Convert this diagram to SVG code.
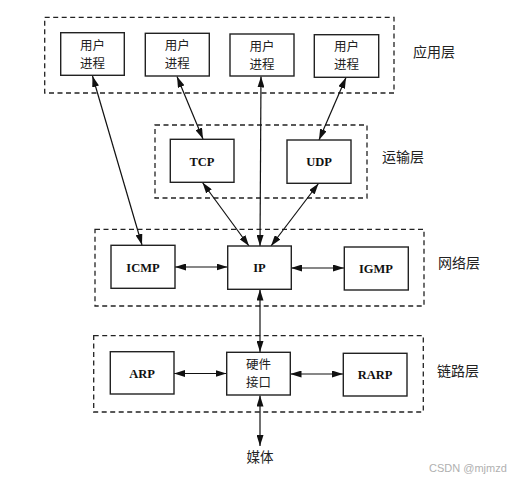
<svg xmlns="http://www.w3.org/2000/svg" width="515" height="483" viewBox="0 0 515 483">
<defs>
<marker id="ah" viewBox="0 0 11 7" refX="11" refY="3.5" markerWidth="11" markerHeight="7" markerUnits="userSpaceOnUse" orient="auto-start-reverse">
<path d="M0,0 L11,3.5 L0,7 z" fill="#111"/>
</marker>
<style>
.layer{fill:none;stroke:#222;stroke-width:1.3;stroke-dasharray:5,3.5}
.box{fill:#fff;stroke:#222;stroke-width:1.4}
.cjk{font-family:"Noto Sans CJK SC","Noto Sans",sans-serif;font-size:12.5px;fill:#222;text-anchor:middle}
.lbl{font-family:"Noto Sans CJK SC","Noto Sans",sans-serif;font-size:14px;fill:#222}
.proto{font-family:"Liberation Serif","Times New Roman",serif;font-size:12.5px;font-weight:bold;fill:#111;text-anchor:middle}
.conn line{stroke:#111;stroke-width:1.2;marker-start:url(#ah);marker-end:url(#ah)}
.wm{font-family:"Liberation Sans",Arial,sans-serif;font-size:11px;fill:#b0b0b0}
</style>
</defs>
<rect width="515" height="483" fill="#fff"/>

<g id="layers">
<rect class="layer" x="44.7" y="17.3" width="349.3" height="75.7"/>
<rect class="layer" x="155" y="125" width="212" height="73"/>
<rect class="layer" x="95" y="229.3" width="329" height="76.7"/>
<rect class="layer" x="93.7" y="335.7" width="329.6" height="76.3"/>
<text class="lbl" x="413" y="57">应用层</text>
<text class="lbl" x="382" y="162">运输层</text>
<text class="lbl" x="438" y="268">网络层</text>
<text class="lbl" x="437" y="376">链路层</text>
</g>

<g class="conn" id="connectors">
<line x1="92.5" y1="76" x2="142" y2="245"/>
<line x1="177" y1="76.5" x2="203" y2="139"/>
<line x1="261" y1="76.5" x2="260" y2="246"/>
<line x1="346" y1="77.5" x2="319" y2="140"/>
<line x1="202.5" y1="182.5" x2="249" y2="246"/>
<line x1="318.5" y1="183.5" x2="271" y2="246"/>
<line x1="175" y1="267" x2="227.5" y2="267"/>
<line x1="291" y1="268" x2="344" y2="268"/>
<line x1="260" y1="289.5" x2="260" y2="352"/>
<line x1="174" y1="373.5" x2="226.5" y2="373.5"/>
<line x1="290.5" y1="374" x2="343" y2="374"/>
<line x1="260" y1="395.5" x2="260" y2="446"/>
</g>

<g id="proc1"><rect class="box" x="60.7" y="32.7" width="63.6" height="42.6"/><text class="cjk" x="92.5" y="49.5">用户<tspan x="92.5" dy="18.2">进程</tspan></text></g>
<g id="proc2"><rect class="box" x="145.3" y="33.3" width="64" height="42.7"/><text class="cjk" x="177.3" y="50">用户<tspan x="177.3" dy="18.2">进程</tspan></text></g>
<g id="proc3"><rect class="box" x="230" y="34" width="64" height="42"/><text class="cjk" x="262" y="50.5">用户<tspan x="262" dy="18.2">进程</tspan></text></g>
<g id="proc4"><rect class="box" x="314.3" y="34.7" width="64.4" height="42.6"/><text class="cjk" x="346.5" y="51">用户<tspan x="346.5" dy="18.2">进程</tspan></text></g>

<g id="tcp"><rect class="box" x="170.3" y="139.3" width="63.7" height="43"/><text class="proto" x="202" y="165.5">TCP</text></g>
<g id="udp"><rect class="box" x="287" y="140" width="64" height="43.3"/><text class="proto" x="319" y="166">UDP</text></g>

<g id="icmp"><rect class="box" x="111" y="245.3" width="64" height="43"/><text class="proto" x="143" y="271.5">ICMP</text></g>
<g id="ip"><rect class="box" x="227.7" y="246" width="63.6" height="43.3"/><text class="proto" x="259.5" y="272">IP</text></g>
<g id="igmp"><rect class="box" x="344.3" y="247" width="64" height="43"/><text class="proto" x="376" y="273">IGMP</text></g>

<g id="arp"><rect class="box" x="110.3" y="351.7" width="63.7" height="42.3"/><text class="proto" x="142" y="377.5">ARP</text></g>
<g id="hw"><rect class="box" x="226.7" y="352.3" width="63.6" height="42.7"/><text class="cjk" x="258.5" y="368.5">硬件<tspan x="258.5" dy="18.2">接口</tspan></text></g>
<g id="rarp"><rect class="box" x="343.3" y="353.3" width="63.7" height="42.7"/><text class="proto" x="375" y="378.5">RARP</text></g>

<g id="media"><text class="cjk" x="260" y="462" style="font-size:13.5px">媒体</text></g>

<text class="wm" x="429" y="472">CSDN @mjmzd</text>
</svg>
